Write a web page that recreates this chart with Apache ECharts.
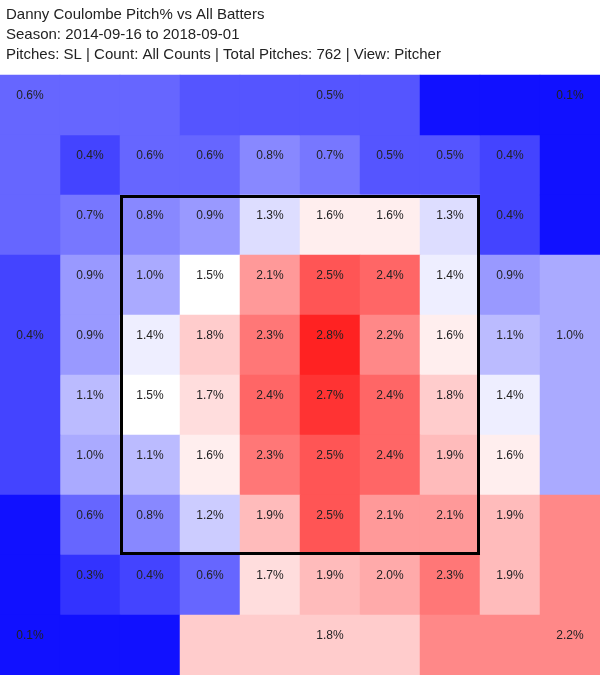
<!DOCTYPE html>
<html>
<head>
<meta charset="utf-8">
<script src="https://cdn.jsdelivr.net/npm/echarts@6/dist/echarts.min.js"></script>
<style>
  html, body { margin: 0; padding: 0; background: #fff; }
  #chart { width: 600px; height: 675px; }
</style>
</head>
<body>
<div id="chart"></div>
<script>
// ---- data ----
const titleLines = [
  'Danny Coulombe Pitch% vs All Batters',
  'Season: 2014-09-16 to 2018-09-01',
  'Pitches: SL | Count: All Counts | Total Pitches: 762 | View: Pitcher'
];
const colCats = ['0','1','2','3','4','5','6','7','8','9'];
const rowCats = ['0','1','2','3','4','5','6','7','8','9'];

// inner 8x8 zone values (rows 1-8 top to bottom, cols 1-8 left to right), in %
const innerRow1 = [0.4, 0.6, 0.6, 0.8, 0.7, 0.5, 0.5, 0.4];
const innerRow2 = [0.7, 0.8, 0.9, 1.3, 1.6, 1.6, 1.3, 0.4];
const innerRow3 = [0.9, 1.0, 1.5, 2.1, 2.5, 2.4, 1.4, 0.9];
const innerRow4 = [0.9, 1.4, 1.8, 2.3, 2.8, 2.2, 1.6, 1.1];
const innerRow5 = [1.1, 1.5, 1.7, 2.4, 2.7, 2.4, 1.8, 1.4];
const innerRow6 = [1.0, 1.1, 1.6, 2.3, 2.5, 2.4, 1.9, 1.6];
const innerRow7 = [0.6, 0.8, 1.2, 1.9, 2.5, 2.1, 2.1, 1.9];
const innerRow8 = [0.3, 0.4, 0.6, 1.7, 1.9, 2.0, 2.3, 1.9];
const innerRows = [innerRow1, innerRow2, innerRow3, innerRow4, innerRow5, innerRow6, innerRow7, innerRow8];

// outer zone values, in %
const outerTopLeft = 0.6, outerTopMid = 0.5, outerTopRight = 0.1;
const outerLeftMid = 0.4, outerRightMid = 1.0;
const outerBotLeft = 0.1, outerBotMid = 1.8, outerBotRight = 2.2;

// outer zone membership: [col,row] cells, and which cell carries the label
const outerZones = [
  { value: outerTopLeft,  cells: [[0,0],[1,0],[2,0],[0,1],[0,2]], label: [0,0] },
  { value: outerTopMid,   cells: [[3,0],[4,0],[5,0],[6,0]],       label: [5,0] },
  { value: outerTopRight, cells: [[7,0],[8,0],[9,0],[9,1],[9,2]], label: [9,0] },
  { value: outerLeftMid,  cells: [[0,3],[0,4],[0,5],[0,6]],       label: [0,4] },
  { value: outerRightMid, cells: [[9,3],[9,4],[9,5],[9,6]],       label: [9,4] },
  { value: outerBotLeft,  cells: [[0,7],[0,8],[0,9],[1,9],[2,9]], label: [0,9] },
  { value: outerBotMid,   cells: [[3,9],[4,9],[5,9],[6,9]],       label: [5,9] },
  { value: outerBotRight, cells: [[7,9],[8,9],[9,9],[9,7],[9,8]], label: [9,9] }
];
// strike zone in category cells: [firstCol, firstRow, lastCol, lastRow]
const strikeZone = [2, 2, 7, 7];

// ---- build series data ----
const heatData = [];
innerRows.forEach((row, r) => {
  row.forEach((v, c) => heatData.push({ value: [c + 1, r + 1, v] }));
});
outerZones.forEach(z => {
  z.cells.forEach(cell => {
    const isLabel = cell[0] === z.label[0] && cell[1] === z.label[1];
    heatData.push({ value: [cell[0], cell[1], z.value], label: { show: isLabel } });
  });
});

const chart = echarts.init(document.getElementById('chart'));
const FONT = '"Liberation Sans", Arial, sans-serif';
chart.setOption({
  animation: false,
  backgroundColor: '#fff',
  title: {
    text: titleLines.join('\n'),
    left: 6, top: 5,
    padding: 0,
    textStyle: { fontSize: 15, lineHeight: 20, fontWeight: 'normal', color: '#222', fontFamily: FONT }
  },
  grid: { left: 0, right: 0, top: 75, bottom: 0, containLabel: false },
  xAxis: {
    type: 'category', data: colCats,
    axisLine: { show: false }, axisTick: { show: false }, axisLabel: { show: false },
    splitLine: { show: false }
  },
  yAxis: {
    type: 'category', data: rowCats, inverse: true,
    axisLine: { show: false }, axisTick: { show: false }, axisLabel: { show: false },
    splitLine: { show: false }
  },
  visualMap: {
    show: false, type: 'continuous', min: 0, max: 3.0, dimension: 2, seriesIndex: 0,
    inRange: { color: ['#0000ff', '#ffffff', '#ff0000'] }
  },
  series: [
    {
      type: 'heatmap',
      data: heatData,
      itemStyle: { borderWidth: 0 },
      label: {
        show: true,
        offset: [0, -9],
        fontSize: 12,
        color: '#222',
        fontFamily: FONT,
        formatter: p => p.value[2].toFixed(1) + '%'
      },
      emphasis: { disabled: true }
    },
    {
      type: 'custom',
      silent: true,
      z: 10,
      data: [strikeZone],
      renderItem: function (params, api) {
        const p0 = api.coord([api.value(0), api.value(1)]);
        const p1 = api.coord([api.value(2), api.value(3)]);
        const s = api.size([1, 1]);
        const lw = 3;
        const x0 = p0[0] - s[0] / 2 + lw / 2;
        const y0 = p0[1] - s[1] / 2 + lw / 2;
        const x1 = p1[0] + s[0] / 2 - lw / 2;
        const y1 = p1[1] + s[1] / 2 - lw / 2;
        return {
          type: 'rect',
          shape: { x: x0, y: y0, width: x1 - x0, height: y1 - y0 },
          style: { fill: null, stroke: '#000', lineWidth: lw }
        };
      }
    }
  ]
});
</script>
</body>
</html>
